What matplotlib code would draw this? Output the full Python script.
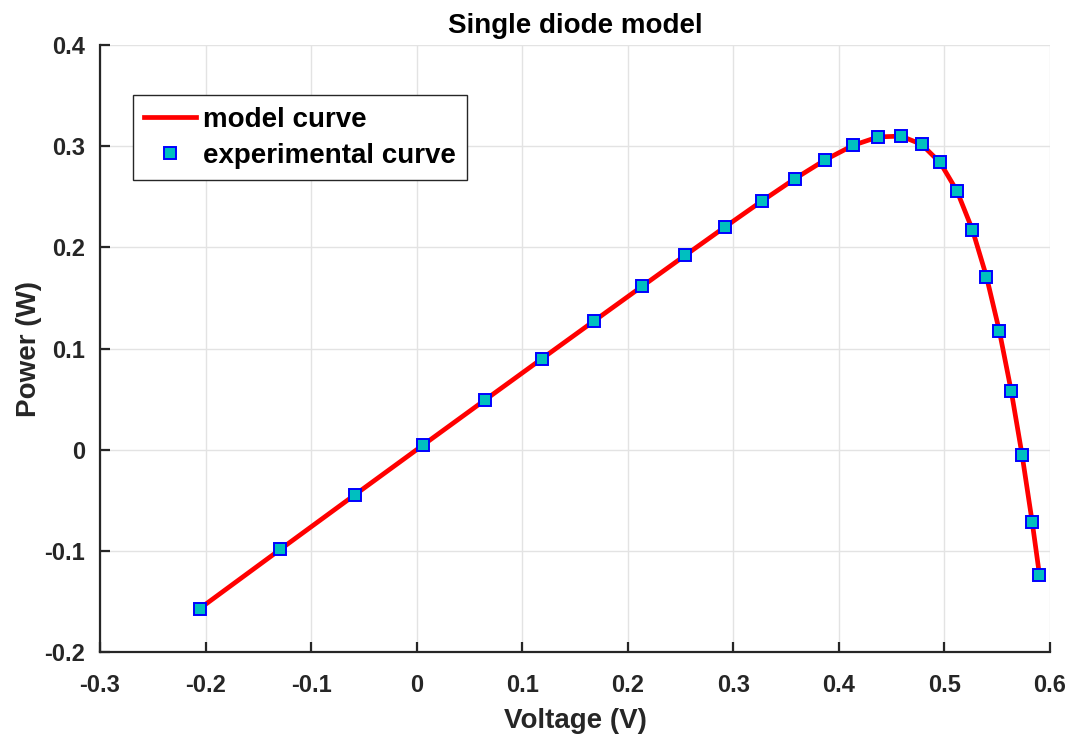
import numpy as np
import matplotlib
matplotlib.use('Agg')
import matplotlib.pyplot as plt

plt.rcParams['font.family'] = ['Liberation Sans', 'DejaVu Sans']
plt.rcParams['font.weight'] = 'bold'

# Measured I-V points of the cell
voltage = np.array([-0.2057, -0.1291, -0.0588, 0.0057, 0.0646, 0.1185, 0.1678, 0.2132,
                    0.2545, 0.2924, 0.3269, 0.3585, 0.3873, 0.4137, 0.4373, 0.4590,
                    0.4784, 0.4960, 0.5119, 0.5265, 0.5398, 0.5521, 0.5633, 0.5736,
                    0.5833, 0.5900])
current_exp = np.array([0.7640, 0.7620, 0.7605, 0.7605, 0.7600, 0.7590, 0.7570, 0.7570,
                        0.7555, 0.7540, 0.7505, 0.7465, 0.7385, 0.7280, 0.7065, 0.6755,
                        0.6320, 0.5730, 0.4990, 0.4130, 0.3165, 0.2120, 0.1035, -0.0100,
                        -0.1230, -0.2100])
# Current from the fitted single diode model
current_model = np.array([0.7641, 0.7627, 0.7614, 0.7602, 0.7591, 0.7580, 0.7571, 0.7561,
                          0.7551, 0.7537, 0.7514, 0.7474, 0.7401, 0.7274, 0.7070, 0.6753,
                          0.6308, 0.5720, 0.4995, 0.4130, 0.3172, 0.2120, 0.1028, -0.0093,
                          -0.1244, -0.2092])

power_exp = voltage * current_exp
power_model = voltage * current_model

fig = plt.figure(figsize=(10.78, 7.38), dpi=100)
ax = fig.add_axes([0.0928, 0.1165, 0.8812, 0.8225])

ax.plot(voltage, power_model, color='red', linewidth=3.4, label='model curve', zorder=3)
ax.plot(voltage, power_exp, linestyle='none', marker='s', markersize=9,
        markerfacecolor=(0, 0.75, 0.75), markeredgecolor='blue', markeredgewidth=1.4,
        label='experimental curve', zorder=4)

ax.set_xlim(-0.3, 0.6)
ax.set_ylim(-0.2, 0.4)
ax.set_xticks(np.arange(-0.3, 0.61, 0.1))
ax.set_yticks(np.arange(-0.2, 0.41, 0.1))
ax.set_xticklabels(['-0.3', '-0.2', '-0.1', '0', '0.1', '0.2', '0.3', '0.4', '0.5', '0.6'])
ax.set_yticklabels(['-0.2', '-0.1', '0', '0.1', '0.2', '0.3', '0.4'])

ax.grid(True, color='#e3e3e3', linewidth=1.0)
ax.set_axisbelow(True)
for side in ['top', 'right']:
    ax.spines[side].set_visible(False)
for side in ['left', 'bottom']:
    ax.spines[side].set_linewidth(1.6)
    ax.spines[side].set_color('#262626')
ax.tick_params(direction='in', length=7, width=1.6, color='#262626',
               labelsize=17, labelcolor='#262626')
ax.tick_params(axis='x', pad=16)
ax.tick_params(axis='y', pad=11)
for lbl in ax.get_xticklabels() + ax.get_yticklabels():
    lbl.set_fontweight('bold')

ax.set_xlabel('Voltage (V)', fontsize=20, fontweight='bold', color='#262626', labelpad=8)
ax.set_ylabel('Power (W)', fontsize=20, fontweight='bold', color='#262626', labelpad=1)
ax.set_title('Single diode model', fontsize=20, fontweight='bold', pad=9)

leg = ax.legend(loc='upper left', bbox_to_anchor=(0.035, 0.917), borderaxespad=0,
                frameon=True, fancybox=False, edgecolor='#262626', framealpha=1,
                borderpad=0.4, handlelength=1.85, handletextpad=0.25, labelspacing=0.38,
                prop={'weight': 'bold', 'size': 20})
leg.get_frame().set_linewidth(1.0)

fig.savefig('out.png', dpi=100)
